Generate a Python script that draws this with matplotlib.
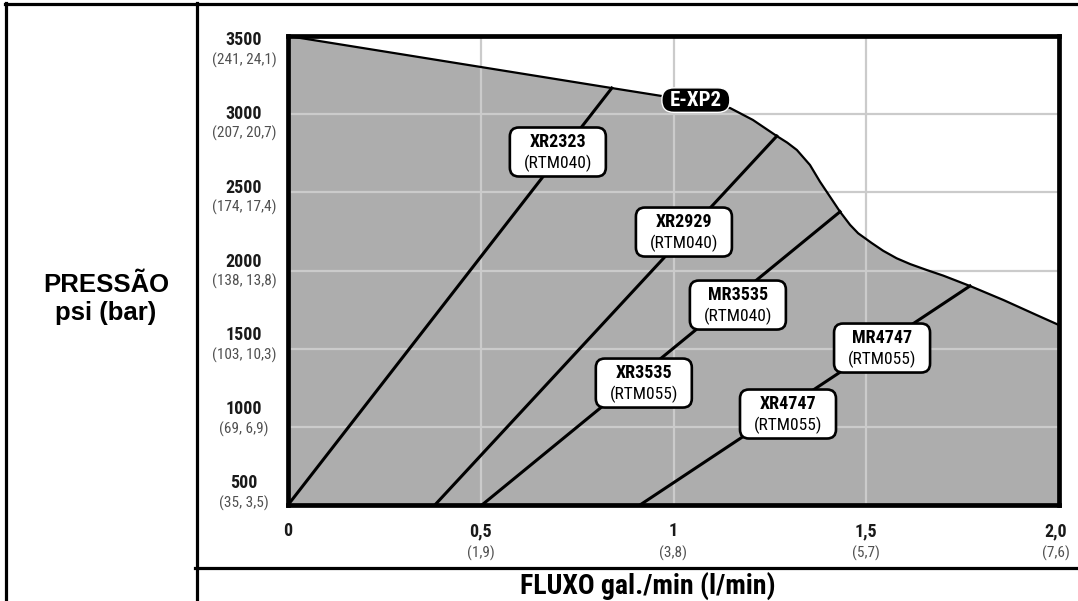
import matplotlib
matplotlib.use("Agg")
import matplotlib.pyplot as plt
import matplotlib.transforms as mtransforms
from matplotlib.patches import FancyBboxPatch
from matplotlib.lines import Line2D
from matplotlib import font_manager

# ---------------- data ----------------
y_ticks = [500, 1000, 1500, 2000, 2500, 3000, 3500]
y_sub = ["(35, 3,5)", "(69, 6,9)", "(103, 10,3)", "(138, 13,8)", "(174, 17,4)",
         "(207, 20,7)", "(241, 24,1)"]
x_ticks = [0, 0.5, 1.0, 1.5, 2.0]
x_main = ["0", "0,5", "1", "1,5", "2,0"]
x_sub = ["", "(1,9)", "(3,8)", "(5,7)", "(7,6)"]

# E-XP2 envelope curve (flow gpm, pressure psi)
env_flow = [0.0, 0.84, 0.97, 1.07, 1.147, 1.206, 1.268, 1.295, 1.320, 1.354, 1.380,
            1.406, 1.432, 1.458, 1.479, 1.514, 1.544, 1.579, 1.614, 1.657, 1.700,
            1.769, 1.856, 1.942, 2.0]
env_psi = [3500, 3167, 3116, 3084, 3039, 2963, 2860, 2818, 2771, 2675, 2568,
           2472, 2376, 2292, 2238, 2176, 2126, 2078, 2041, 2003, 1967,
           1901, 1811, 1715, 1651]

# pump lines: start (flow, psi) -> end (flow, psi)
pump_x0 = [0.0, 0.381, 0.503, 0.913]
pump_y0 = [500, 500, 500, 500]
pump_x1 = [0.840, 1.268, 1.432, 1.769]
pump_y1 = [3167, 2860, 2376, 1901]

# labels
lab_name = ["XR2323", "XR2929", "MR3535", "XR3535", "MR4747", "XR4747"]
lab_sub = ["(RTM040)", "(RTM040)", "(RTM040)", "(RTM055)", "(RTM055)", "(RTM055)"]
lab_x = [0.700, 1.027, 1.167, 0.923, 1.541, 1.297]
lab_y = [2758, 2246, 1779, 1280, 1504, 1082]
env_label = "E-XP2"
env_label_x = 1.058
env_label_y = 3090

# ---------------- fonts ----------------
avail = {}
for f in font_manager.fontManager.ttflist:
    avail.setdefault(f.name, set()).add(f.weight if isinstance(f.weight, int) else 400)

def pick(cands, fallback):
    for c in cands:
        w = avail.get(c)
        if w and any((isinstance(x, int) and x >= 600) or x == "bold" for x in w):
            return [c, "DejaVu Sans"]
    for c in cands:
        if c in avail:
            return [c, "DejaVu Sans"]
    return fallback

NARROW = pick(["Roboto Condensed", "Archivo Narrow", "Liberation Sans Narrow",
               "PT Sans Narrow", "Open Sans Condensed", "Arimo"],
              ["Liberation Sans", "DejaVu Sans"])
WIDE = pick(["Arimo", "Liberation Sans", "Roboto"], ["DejaVu Sans"])

# ---------------- figure ----------------
W, H = 1078, 601
fig = plt.figure(figsize=(W / 100, H / 100), dpi=100)
fig.patch.set_facecolor("white")

def fx(px):
    return px / W

def fy(py):
    return 1 - py / H

ax = fig.add_axes([fx(288), fy(505), (1059 - 288) / W, (505 - 36) / H])
ax.set_xlim(0, 2.0)
ax.set_ylim(500, 3500)
ax.set_xticks(x_ticks)
ax.set_yticks(y_ticks)
ax.tick_params(length=0, labelbottom=False, labelleft=False)
for s in ax.spines.values():
    s.set_linewidth(3.4)
    s.set_color("black")
    s.set_zorder(10)

ax.fill(env_flow + [2.0, 0.0], env_psi + [500, 500], color="#adadad", lw=0, zorder=0.5)
for xt in x_ticks[1:-1]:
    ax.axvline(xt, color="#cbcbcb", lw=1.6, zorder=1)
for yt in y_ticks[1:-1]:
    ax.axhline(yt, color="#cbcbcb", lw=1.6, zorder=1)

ax.plot(env_flow, env_psi, color="black", lw=1.6, zorder=3, solid_joinstyle="round")
for a, b, c, d in zip(pump_x0, pump_y0, pump_x1, pump_y1):
    ax.plot([a, c], [b, d], color="black", lw=2.2, zorder=3)

# label boxes
bw, bh = 0.96, 0.49
for name, sub, xv, yv in zip(lab_name, lab_sub, lab_x, lab_y):
    tr = fig.dpi_scale_trans + mtransforms.ScaledTranslation(xv, yv, ax.transData)
    ax.add_patch(FancyBboxPatch((-bw / 2, -bh / 2), bw, bh,
                                boxstyle="round,pad=0,rounding_size=0.09",
                                fc="white", ec="black", lw=1.9, transform=tr, zorder=5))
    ax.text(0, 0.10, name, transform=tr, ha="center", va="center",
            fontsize=13, fontweight="bold", family=NARROW, zorder=6)
    ax.text(0, -0.11, sub, transform=tr, ha="center", va="center",
            fontsize=12.5, family=NARROW, zorder=6)

tr = fig.dpi_scale_trans + mtransforms.ScaledTranslation(env_label_x, env_label_y, ax.transData)
ew, eh = 0.68, 0.245
ax.add_patch(FancyBboxPatch((-ew / 2, -eh / 2), ew, eh,
                            boxstyle="round,pad=0,rounding_size=0.12",
                            fc="black", ec="white", lw=1.0, transform=tr, zorder=5))
ax.text(0, 0.0, env_label, transform=tr, ha="center", va="center", color="white",
        fontsize=15, fontweight="bold", family=NARROW, zorder=6)

# y tick labels: evenly spaced between top and bottom of the column
n = len(y_ticks)
top_px, bot_px = 40, 483
for i, (v, s) in enumerate(zip(y_ticks, y_sub)):
    py = bot_px - i * (bot_px - top_px) / (n - 1)
    fig.text(fx(244), fy(py), str(v), ha="center", va="center",
             fontsize=13, fontweight="bold", family=NARROW, color="#1a1a1a")
    fig.text(fx(244), fy(py + 20), s, ha="center", va="center",
             fontsize=11, family=NARROW, color="#505050")

# x tick labels
xtr = mtransforms.blended_transform_factory(ax.transData, fig.transFigure)
for v, m, s in zip(x_ticks, x_main, x_sub):
    off = -3 if v == 2.0 else 0
    t1 = xtr + mtransforms.ScaledTranslation(off / 100, 0, fig.dpi_scale_trans)
    ax.text(v, fy(531), m, transform=t1, ha="center", va="center",
            fontsize=13, fontweight="bold", family=NARROW, color="#1a1a1a")
    if s:
        ax.text(v, fy(553), s, transform=t1, ha="center", va="center",
                fontsize=11, family=NARROW, color="#505050")

# axis titles
fig.text(fx(106), fy(299), "PRESSÃO\npsi (bar)", ha="center", va="center",
         fontsize=18.5, fontweight="bold", family=WIDE, linespacing=1.25)
fig.text(fx(648), fy(586), "FLUXO gal./min (l/min)", ha="center", va="center",
         fontsize=20, fontweight="bold", family=NARROW)

# frame lines
lw = 2.3
fig.add_artist(Line2D([fx(5), 1], [fy(4), fy(4)], color="black", lw=lw))
fig.add_artist(Line2D([fx(6), fx(6)], [fy(3), 0], color="black", lw=lw))
fig.add_artist(Line2D([fx(197), fx(197)], [fy(3), 0], color="black", lw=lw))
fig.add_artist(Line2D([fx(195), 1], [fy(568), fy(568)], color="black", lw=lw))

fig.savefig("out.png", dpi=100)
